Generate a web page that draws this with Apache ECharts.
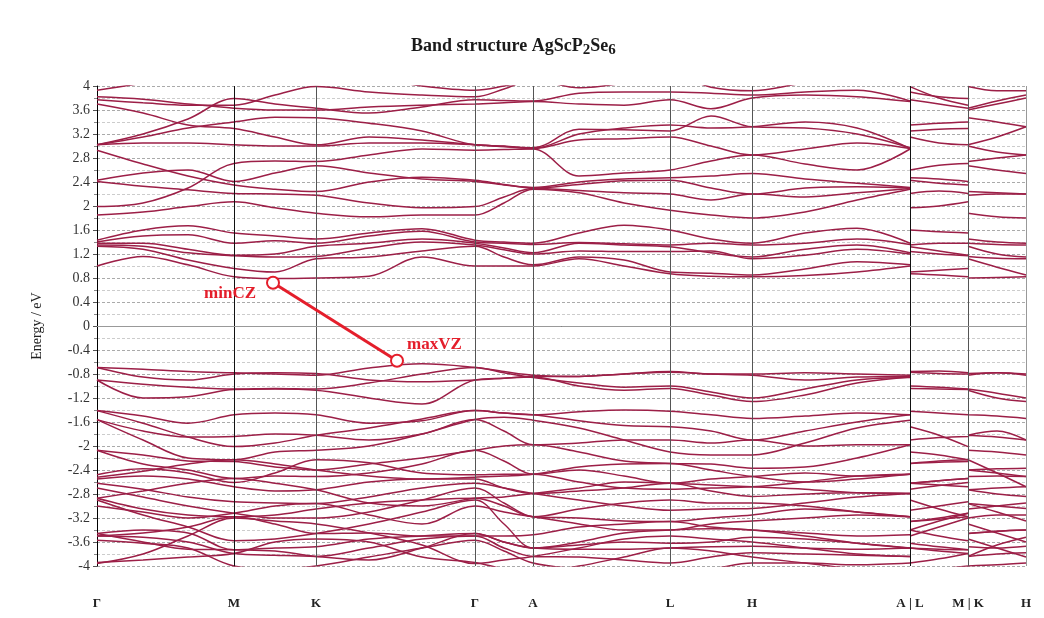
<!DOCTYPE html>
<html><head><meta charset="utf-8">
<script src="https://cdn.jsdelivr.net/npm/echarts@6/dist/echarts.min.js"></script>
<style>html,body{margin:0;padding:0;background:#fff}#c{width:1044px;height:618px}</style>
</head><body><div id="c"></div>
<script>
// k-path sample positions (continuous panel Γ-M-K-Γ-A-L-H-A, then L-M, then K-H)
const kPath = [0,46,91,137,178,219,272,325,378,407,436,482,527,573,614,655,708,760,813];
const kLM = [813,842,871];
const kKH = [871,900,929];
const symPos = [0,137,219,378,436,573,655,813,871,929];
const symLabels = ['Γ','M','K','Γ','A','L','H','A | L','M | K','H'];
const yMin = -4, yMax = 4, yStep = 0.4;

// conduction bands: 19 values on kPath, 3 on kLM, 3 on kKH
const conductionBands = [
 [1.0,1.16,1.02,0.82,0.79,0.80,0.83,1.15,1.0,1.0,1.0,1.12,1.0,0.87,0.83,0.82,0.84,0.9,1.0, 0.87,0.85,0.82, 0.80,0.81,0.82],
 [1.33,1.28,1.1,0.96,0.9,1.12,1.15,1.25,1.33,1.15,1.02,1.15,1.1,0.9,0.88,0.85,0.95,1.07,1.02, 0.9,0.93,0.96, 1.12,0.98,0.85],
 [1.43,1.6,1.67,1.55,1.5,1.45,1.55,1.62,1.43,1.4,1.38,1.55,1.68,1.6,1.45,1.38,1.55,1.63,1.38, 1.6,1.57,1.55, 1.45,1.4,1.38],
 [1.40,1.5,1.52,1.38,1.42,1.38,1.5,1.58,1.40,1.38,1.36,1.39,1.37,1.35,1.38,1.35,1.38,1.45,1.36, 1.35,1.38,1.38, 1.38,1.36,1.35],
 [1.38,1.38,1.28,1.18,1.2,1.33,1.38,1.45,1.38,1.3,1.22,1.38,1.35,1.32,1.22,1.15,1.28,1.35,1.22, 1.32,1.25,1.18, 1.33,1.2,1.15],
 [1.35,1.33,1.22,1.17,1.15,1.16,1.3,1.4,1.35,1.27,1.2,1.25,1.24,1.24,1.25,1.12,1.18,1.28,1.2, 1.24,1.2,1.17, 1.16,1.13,1.12],
 [1.85,1.9,1.99,2.07,1.97,1.88,1.82,1.85,1.85,2.05,2.28,2.22,2.05,1.93,1.85,1.8,1.9,2.1,2.28, 1.97,2.0,2.07, 1.88,1.82,1.8],
 [1.99,2.05,2.3,2.71,2.75,2.74,2.85,2.95,2.93,2.94,2.95,2.5,2.55,2.6,2.75,2.85,2.7,2.6,2.95, 2.6,2.68,2.71, 2.74,2.8,2.85],
 [2.41,2.33,2.27,2.21,2.2,2.18,2.05,1.97,1.99,2.15,2.29,2.26,2.22,2.2,2.1,2.2,2.15,2.22,2.29, 2.21,2.25,2.21, 2.18,2.2,2.2],
 [2.43,2.55,2.6,2.41,2.55,2.67,2.55,2.45,2.41,2.35,2.31,2.4,2.45,2.47,2.5,2.54,2.45,2.38,2.31, 2.47,2.45,2.41, 2.67,2.6,2.54],
 [2.93,2.7,2.5,2.35,2.28,2.24,2.4,2.48,2.43,2.36,2.3,2.36,2.42,2.43,2.3,2.2,2.3,2.32,2.3, 2.43,2.38,2.35, 2.24,2.22,2.2],
 [3.02,3.05,3.05,3.02,3.0,3.0,3.05,3.05,3.02,2.99,2.96,3.1,3.12,3.15,3.0,2.85,2.95,3.05,2.96, 3.15,3.05,3.02, 3.0,2.9,2.85],
 [3.02,3.2,3.45,3.79,3.7,3.63,3.55,3.65,3.77,3.76,3.75,3.88,3.9,3.9,3.88,3.85,3.9,3.93,3.75, 3.9,3.82,3.79, 3.63,3.75,3.85],
 [3.02,3.15,3.3,3.40,3.48,3.47,3.38,3.25,3.02,3.0,2.96,3.2,3.3,3.35,3.3,3.32,3.4,3.3,2.96, 3.35,3.38,3.40, 3.47,3.4,3.32],
 [3.7,3.55,3.35,3.29,3.15,3.02,3.15,3.1,3.02,2.99,2.97,3.28,3.27,3.25,3.5,3.32,3.3,3.2,2.97, 3.25,3.28,3.29, 3.02,3.15,3.32],
 [3.77,3.72,3.68,3.68,3.85,3.99,3.9,3.85,3.82,3.95,4.1,3.97,4.05,4.2,3.98,3.92,4.05,4.1,4.1, 3.99,3.8,3.68, 3.99,3.92,3.92],
 [3.82,3.78,3.7,3.63,3.6,3.6,3.65,3.68,3.7,3.72,3.74,3.7,3.68,3.77,3.62,3.8,3.85,3.82,3.74, 3.77,3.7,3.63, 3.6,3.7,3.8],
 [3.93,4.05,4.2,4.3,4.3,4.2,4.15,4.0,3.93,4.0,4.1,4.2,4.3,4.3,4.3,4.3,4.3,4.3,4.1, 4.3,4.3,4.3, 4.2,4.3,4.3]
];

// valence bands
const valenceBands = [
 [-0.69,-0.72,-0.76,-0.78,-0.8,-0.82,-0.7,-0.63,-0.69,-0.76,-0.82,-0.84,-0.8,-0.76,-0.8,-0.8,-0.78,-0.8,-0.82, -0.76,-0.75,-0.78, -0.82,-0.78,-0.8],
 [-0.69,-0.85,-0.9,-0.8,-0.78,-0.79,-0.9,-0.93,-0.9,-0.87,-0.84,-0.84,-0.8,-0.77,-0.8,-0.82,-0.9,-0.85,-0.84, -0.77,-0.79,-0.8, -0.79,-0.78,-0.82],
 [-0.9,-1.2,-1.18,-1.06,-1.05,-1.07,-1.2,-1.3,-0.9,-0.87,-0.85,-1.0,-1.07,-1.04,-1.15,-1.26,-1.15,-0.95,-0.85, -1.04,-1.05,-1.06, -1.07,-1.2,-1.26],
 [-0.9,-0.97,-1.02,-1.05,-1.04,-1.05,-0.95,-0.8,-0.69,-0.78,-0.86,-0.95,-1.02,-1.0,-1.1,-1.2,-1.05,-0.9,-0.86, -1.0,-1.02,-1.05, -1.05,-1.12,-1.2],
 [-1.41,-1.5,-1.62,-1.48,-1.45,-1.48,-1.62,-1.58,-1.41,-1.45,-1.48,-1.43,-1.4,-1.42,-1.48,-1.54,-1.5,-1.45,-1.48, -1.42,-1.45,-1.48, -1.48,-1.5,-1.54],
 [-1.41,-1.62,-1.85,-2.01,-1.95,-1.82,-1.7,-1.55,-1.41,-1.45,-1.48,-1.58,-1.66,-1.68,-1.75,-1.9,-1.75,-1.6,-1.48, -1.68,-1.82,-2.01, -1.82,-1.75,-1.9],
 [-1.56,-1.75,-1.85,-1.84,-1.8,-1.82,-1.9,-1.8,-1.56,-1.75,-1.98,-1.95,-1.9,-1.9,-1.95,-1.9,-2.0,-1.98,-1.98, -1.9,-1.86,-1.84, -1.82,-1.85,-1.9],
 [-1.56,-1.9,-2.2,-2.23,-2.1,-2.07,-2.0,-1.8,-1.56,-1.52,-1.57,-1.7,-1.9,-2.1,-2.15,-2.15,-1.95,-1.7,-1.57, -2.1,-2.15,-2.23, -2.07,-2.1,-2.15],
 [-2.07,-2.15,-2.25,-2.26,-2.35,-2.4,-2.3,-2.2,-2.07,-2.0,-1.98,-2.1,-2.25,-2.29,-2.3,-2.37,-2.35,-2.2,-1.98, -2.29,-2.27,-2.26, -2.4,-2.38,-2.37],
 [-2.07,-2.3,-2.4,-2.54,-2.5,-2.51,-2.45,-2.3,-2.07,-2.25,-2.47,-2.4,-2.5,-2.62,-2.55,-2.51,-2.45,-2.5,-2.47, -2.62,-2.58,-2.54, -2.51,-2.5,-2.51],
 [-2.48,-2.38,-2.45,-2.61,-2.45,-2.23,-2.28,-2.45,-2.48,-2.47,-2.47,-2.6,-2.7,-2.72,-2.7,-2.68,-2.6,-2.5,-2.47, -2.72,-2.66,-2.61, -2.23,-2.45,-2.68],
 [-2.55,-2.5,-2.55,-2.68,-2.75,-2.73,-2.6,-2.55,-2.55,-2.7,-2.79,-2.75,-2.7,-2.62,-2.75,-2.84,-2.8,-2.78,-2.79, -2.62,-2.65,-2.68, -2.73,-2.8,-2.84],
 [-2.62,-2.72,-2.85,-2.93,-2.95,-2.96,-2.85,-2.7,-2.62,-2.7,-2.79,-2.9,-3.0,-3.07,-3.05,-3.04,-2.95,-2.85,-2.79, -3.07,-3.0,-2.93, -2.96,-3.0,-3.04],
 [-2.7,-2.85,-3.0,-3.12,-3.2,-3.2,-3.1,-2.9,-2.7,-2.95,-3.18,-3.2,-3.25,-3.26,-3.2,-3.15,-3.05,-3.1,-3.18, -3.26,-3.2,-3.12, -3.2,-3.15,-3.15],
 [-2.87,-3.05,-3.15,-3.18,-3.15,-3.05,-2.95,-2.9,-2.87,-3.0,-3.18,-3.05,-2.95,-2.9,-2.95,-2.95,-3.0,-3.1,-3.18, -2.9,-3.05,-3.18, -3.05,-3.0,-2.95],
 [-2.9,-3.15,-3.35,-3.58,-3.55,-3.46,-3.3,-3.1,-2.9,-3.3,-3.7,-3.6,-3.45,-3.4,-3.38,-3.4,-3.5,-3.62,-3.7, -3.4,-3.5,-3.58, -3.46,-3.42,-3.4],
 [-3.46,-3.4,-3.45,-3.73,-3.7,-3.68,-3.55,-3.5,-3.46,-3.6,-3.7,-3.72,-3.72,-3.7,-3.68,-3.67,-3.7,-3.72,-3.7, -3.7,-3.72,-3.73, -3.68,-3.7,-3.67],
 [-3.5,-3.52,-3.6,-3.79,-3.82,-3.84,-3.7,-3.55,-3.5,-3.7,-3.84,-3.85,-3.9,-3.95,-3.85,-3.78,-3.8,-3.82,-3.84, -3.95,-3.88,-3.79, -3.84,-3.8,-3.78],
 [-3.96,-3.8,-3.5,-3.2,-3.25,-3.3,-3.45,-3.65,-3.96,-3.9,-3.84,-3.7,-3.55,-3.5,-3.55,-3.6,-3.7,-3.8,-3.84, -3.5,-3.35,-3.2, -3.3,-3.45,-3.6],
 [-3.57,-3.62,-3.7,-4.0,-4.05,-4.0,-3.85,-3.7,-3.57,-3.75,-3.95,-4.05,-4.1,-4.1,-4.05,-3.95,-3.95,-3.98,-3.95, -4.1,-4.05,-4.0, -4.0,-3.98,-3.95],
 [-3.94,-3.9,-3.85,-3.79,-3.6,-3.55,-3.6,-3.85,-3.94,-4.05,-4.1,-4.0,-3.85,-3.7,-3.75,-3.85,-3.95,-4.05,-4.1, -3.7,-3.75,-3.79, -3.55,-3.7,-3.85],
 [-2.52,-2.42,-2.3,-2.23,-2.3,-2.4,-2.5,-2.55,-2.52,-2.5,-2.47,-2.35,-2.3,-2.29,-2.4,-2.51,-2.6,-2.55,-2.47, -2.29,-2.25,-2.23, -2.4,-2.45,-2.51],
 [-2.87,-2.75,-2.62,-2.54,-2.62,-2.73,-2.95,-3.0,-2.87,-2.85,-2.79,-2.7,-2.6,-2.62,-2.65,-2.68,-2.72,-2.78,-2.79, -2.62,-2.58,-2.54, -2.73,-2.7,-2.68],
 [-3.0,-3.1,-3.2,-3.12,-3.0,-2.96,-3.15,-3.3,-3.0,-3.1,-3.18,-3.3,-3.4,-3.4,-3.3,-3.25,-3.2,-3.15,-3.18, -3.4,-3.25,-3.12, -2.96,-3.1,-3.25],
 [-3.46,-3.6,-3.72,-3.73,-3.75,-3.84,-3.9,-3.7,-3.46,-3.6,-3.7,-3.65,-3.6,-3.62,-3.6,-3.52,-3.55,-3.62,-3.7, -3.62,-3.68,-3.73, -3.84,-3.65,-3.52],
 [-3.5,-3.45,-3.35,-3.18,-3.3,-3.46,-3.45,-3.5,-3.5,-3.5,-3.48,-3.35,-3.3,-3.26,-3.35,-3.4,-3.45,-3.5,-3.48, -3.26,-3.22,-3.18, -3.46,-3.42,-3.4]
];

const minCZ = [176, 0.72];
const maxVZ = [300, -0.58];

const SERIF = '"Liberation Serif","DejaVu Serif",serif';
const bandColor = '#9c1f47';

function toData(b){
  const d = [];
  kPath.forEach((k,i)=>d.push([k,b[i]]));
  d.push([kLM[0],'-']);
  kLM.forEach((k,i)=>d.push([k,b[19+i]]));
  d.push([kKH[0],'-']);
  kKH.forEach((k,i)=>d.push([k,b[22+i]]));
  return d;
}

const series = [];
conductionBands.concat(valenceBands).forEach((b)=>{
  series.push({type:'line', data:toData(b), smooth:0.35, showSymbol:false, symbol:'none',
    lineStyle:{color:bandColor, width:1.5}, silent:true, z:3});
});

// vertical high-symmetry lines + zero line
series.push({type:'line', data:[], silent:true, z:2,
  markLine:{symbol:'none', silent:true, label:{show:false}, animation:false,
    data: symPos.slice(1).map((p)=>({xAxis:p, lineStyle:{color:(p===137||p===813)?'#111':(p===929?'#999':'#555'), width:1, type:'solid'}}))
      .concat([{yAxis:0, lineStyle:{color:'#999', width:1, type:'solid'}}])
  }});

// annotation
series.push({type:'line', z:10, silent:true,
  data:[
    {value:minCZ, label:{show:true, formatter:'minCZ', position:'left', distance:10, offset:[0,11]}},
    {value:maxVZ, label:{show:true, formatter:'maxVZ', position:'right', distance:3, offset:[0,-16]}}
  ],
  symbol:'emptyCircle', symbolSize:12, showSymbol:true,
  lineStyle:{color:'#e41e2b', width:3},
  itemStyle:{color:'#e41e2b', borderColor:'#e41e2b', borderWidth:3},
  label:{color:'#e41e2b', fontFamily:SERIF, fontWeight:'bold', fontSize:17}
});

const chart = echarts.init(document.getElementById('c'), null, {renderer:'canvas'});
chart.setOption({
  animation:false,
  backgroundColor:'#fff',
  title:{text:'Band structure AgScP{s|2}Se{s|6}', left:406, top:30,
    textStyle:{fontFamily:SERIF, fontWeight:'bold', fontSize:18, color:'#1a1a1a',
      rich:{s:{fontFamily:SERIF, fontWeight:'bold', fontSize:15, color:'#1a1a1a', padding:[8,0,0,0]}}}},
  grid:{left:97, right:18, top:86, bottom:52, containLabel:false},
  xAxis:{type:'value', min:0, max:929,
    axisLine:{show:true, lineStyle:{color:'#000', width:1}},
    axisTick:{show:false}, splitLine:{show:false},
    axisLabel:{customValues:symPos, margin:31, fontFamily:SERIF, fontWeight:'bold', fontSize:13, color:'#222',
      formatter:(v)=>{const i=symPos.indexOf(v); return i>=0?symLabels[i]:'';}}},
  yAxis:{type:'value', min:yMin, max:yMax, interval:yStep,
    name:'Energy / eV', nameLocation:'middle', nameGap:53,
    nameTextStyle:{fontFamily:SERIF, fontSize:14, color:'#222'},
    axisLine:{show:true, lineStyle:{color:'#000', width:1}},
    axisTick:{show:true, length:4, lineStyle:{color:'#555'}},
    minorTick:{show:true, splitNumber:2, length:3, lineStyle:{color:'#888'}},
    axisLabel:{fontFamily:SERIF, fontSize:14, color:'#333', margin:7,
      formatter:(v)=>String(Math.round(v*10)/10)},
    splitLine:{show:true, lineStyle:{color:'#aaaaaa', type:[3,2], width:1}},
    minorSplitLine:{show:true, lineStyle:{color:'#cccccc', type:[3,2], width:1}}
  },
  series:series
});
</script></body></html>
